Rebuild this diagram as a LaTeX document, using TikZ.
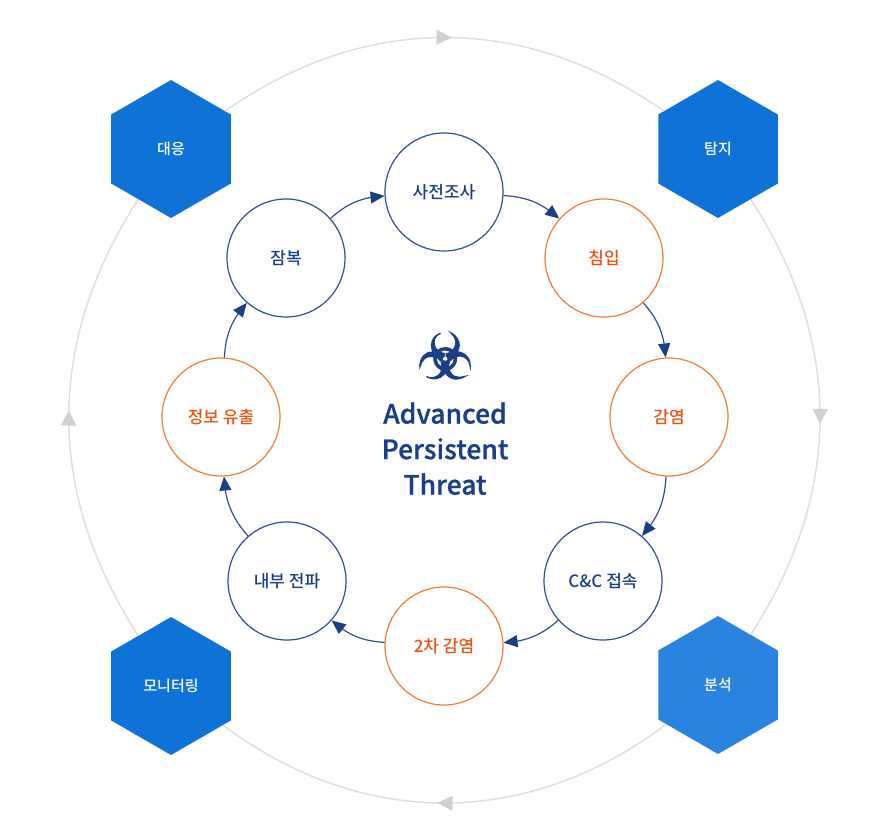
\documentclass[tikz,border=0pt]{standalone}
\usepackage{fontspec}
\setmainfont{Noto Sans CJK KR Medium}
\newfontfamily\iconfont[FakeBold=2]{DejaVu Sans}
\newfontfamily\titlefont[FakeBold=0.7]{Noto Sans CJK KR Medium}
\usepackage{tikz}
\usetikzlibrary{positioning, arrows.meta, bending, shapes.geometric, decorations.markings}
\definecolor{navyline}{HTML}{2F4F8F}
\definecolor{navytip}{HTML}{1B3F85}
\definecolor{orangeline}{HTML}{F47A38}
\definecolor{orangetext}{HTML}{EA5514}
\definecolor{hexblue}{HTML}{0F72D6}
\definecolor{hexlight}{HTML}{2A83DE}
\definecolor{ringgray}{HTML}{DEDEDE}
\definecolor{ringtip}{HTML}{D0D0D0}
\tikzset{
	x=1pt, y=-1pt, % one unit is one pixel of the layout
	stage/.style={circle, draw=navyline, line width=1.2pt, minimum size=118pt, inner sep=0pt, text=navytip, font=\fontsize{17}{17}\selectfont}, % a step of the attack
	hotstage/.style={stage, draw=orangeline, text=orangetext}, % a step shown in orange
	hexa/.style={regular polygon, regular polygon sides=6, regular polygon rotate=30, fill=hexblue, minimum size=138pt, inner sep=0pt, text=white, font=\fontsize{15}{15}\selectfont}, % the outer hexagons
	flow/.style={draw=navyline, line width=1.2pt, -{Triangle[length=14pt, width=12pt, color=navytip]}, bend left=19}, % arrows of the inner cycle
	ringflow/.style={draw=ringgray, line width=1.5pt, bend left=#1, postaction={decorate, decoration={markings, mark=at position 0.515 with {\arrow[ringtip]{Triangle[length=15pt, width=15pt]}}}}}, % outer ring with an arrow half way
}
\begin{document}
\begin{tikzpicture}
	\useasboundingbox (0,0) rectangle (896,833);
	% outer hexagons
	\node[hexa] (daeung) at (171,149) {대응};
	\node[hexa] (tamji) at (718,149) {탐지};
	\node[hexa, fill=hexlight] (bunseok) at (718,685) {분석};
	\node[hexa] (monitor) at (171,686) {모니터링};
	% inner cycle
	\node[stage] (recon) at (444,192) {사전조사};
	\node[hotstage] (intrude) at (604,258) {침입};
	\node[hotstage] (infect) at (669,417) {감염};
	\node[stage] (cnc) at (603,581) {C\&C 접속};
	\node[hotstage] (second) at (444,646) {2차 감염};
	\node[stage] (lateral) at (287,581) {내부 전파};
	\node[hotstage] (leak) at (221,417) {정보 유출};
	\node[stage] (hide) at (286,258) {잠복};
	% centre
	\node[text=navytip, font=\iconfont\fontsize{63}{63}\selectfont, inner sep=0pt] (icon) at (445,356) {☣};
	\node[below=23pt of icon, align=center, text=navytip, inner sep=0pt, font=\titlefont\fontsize{26.5}{35.5}\selectfont] (title) {Advanced\\Persistent\\Threat};
	\draw 	(recon) edge[flow] (intrude)
			(intrude) edge[flow] (infect)
			(infect) edge[flow] (cnc)
			(cnc) edge[flow] (second)
			(second) edge[flow] (lateral)
			(lateral) edge[flow] (leak)
			(leak) edge[flow] (hide)
			(hide) edge[flow] (recon);
	\path 	(daeung) edge[ringflow=35] (tamji)
			(tamji) edge[ringflow=33] (bunseok)
			(bunseok) edge[ringflow=37] (monitor)
			(monitor) edge[ringflow=33] (daeung);
\end{tikzpicture}
\end{document}
